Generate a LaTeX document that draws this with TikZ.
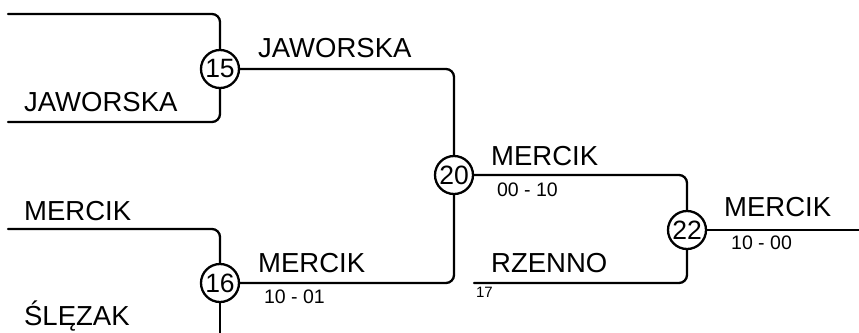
\documentclass[tikz,border=0pt]{standalone}
\usepackage{fontspec}
\setmainfont{Liberation Sans}
\usetikzlibrary{positioning}

\begin{document}
\begin{tikzpicture}[line cap=round,line join=round,x=1bp,y=-1bp,line width=2.3bp,
  match/.style={circle,draw,minimum size=38bp,inner sep=0pt,font=\fontsize{26.5bp}{28bp}\selectfont},
  player/.style={anchor=base west,inner sep=0pt,font=\fontsize{27.5bp}{30bp}\selectfont},
  score/.style={anchor=base west,inner sep=0pt,font=\fontsize{19.5bp}{22bp}\selectfont},
  seed/.style={anchor=base west,inner sep=0pt,font=\fontsize{15bp}{17bp}\selectfont},
  link/.style={rounded corners=8bp}]
\useasboundingbox (0,0) rectangle (859,332);
% matches
\node[match] (m15) at (220,69) {15};
\node[match] (m16) at (220,283) {16};
\node[match] (m20) at (454,175) {20};
\node[match] (m22) at (687,230) {22};
% free ends
\coordinate (in15a) at (8,14);
\coordinate (in15b) at (8,122);
\coordinate (in16a) at (8,229);
\coordinate (in16b) at (220,340);
\coordinate (in22b) at (474,283);
\coordinate (out22) at (862,230);
% bracket lines
\draw[link] (in15a) -| (m15);
\draw[link] (in15b) -| (m15);
\draw[link] (in16a) -| (m16);
\draw (m16) -- (in16b);
\draw[link] (m15) -| (m20);
\draw[link] (m16) -| (m20);
\draw[link] (m20) -| (m22);
\draw[link] (in22b) -| (m22);
\draw (m22) -- (out22);
% names
\node[player] (p1) at (23,111) {JAWORSKA};
\node[player] (p2) at (23,220) {MERCIK};
\node[player] (p3) at (23,325) {ŚLĘZAK};
\node[player] (w15) at (257,57) {JAWORSKA};
\node[player] (w16) at (257,272) {MERCIK};
\node[player] (w20) at (490,165) {MERCIK};
\node[player] (p4) at (490,272) {RZENNO};
\node[player] (w22) at (723,216) {MERCIK};
% results
\node[score] (s16) at (263,303) {10 - 01};
\node[score] (s20) at (496,196) {00 - 10};
\node[score] (s22) at (730,249) {10 - 00};
\node[seed] (n17) at (475,297) {17};
\end{tikzpicture}
\end{document}
